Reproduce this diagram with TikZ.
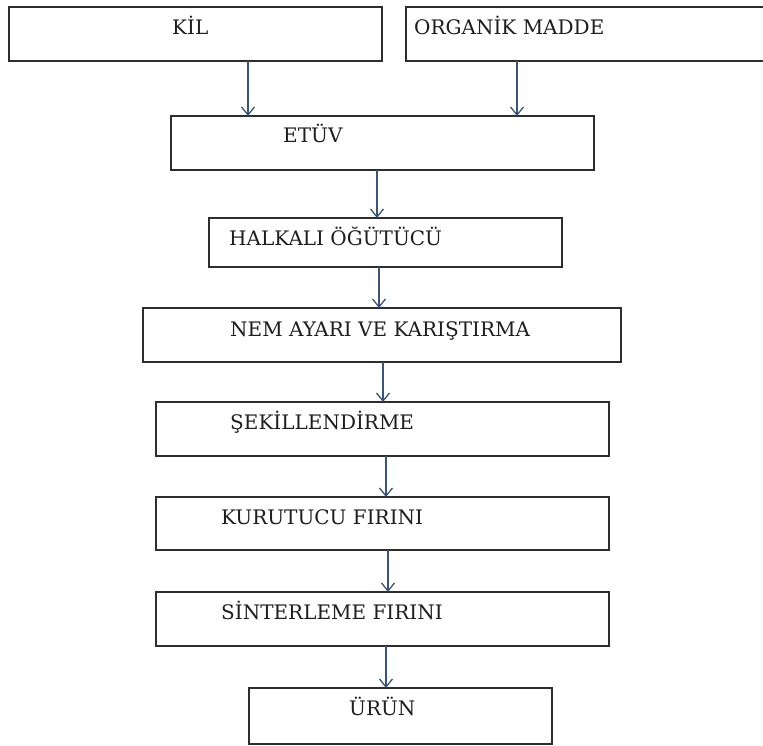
\documentclass[tikz,border=0pt]{standalone}
\usepackage{fontspec}
\setmainfont{DejaVu Serif}
\usetikzlibrary{arrows.meta}
\definecolor{boxline}{RGB}{45,45,45}
\definecolor{arrowcol}{RGB}{58,85,120}
\definecolor{txt}{RGB}{30,30,30}
\tikzset{
  stagebox/.style={draw=boxline, line width=1.6pt, fill=white, inner sep=0pt, outer sep=0pt, anchor=north west},
  lbl/.style={anchor=base west, inner sep=0pt, text=txt, font=\fontsize{20}{22}\selectfont},
  flow/.style={draw=arrowcol, line width=1.3pt, -{Straight Barb[length=8pt,width=13pt,line width=1.3pt]}}
}
\begin{document}
\begin{tikzpicture}[x=1pt,y=-1pt]
\useasboundingbox (0,0) rectangle (763,746);
\clip (0,0) rectangle (763,746);
% boxes
\node[stagebox, minimum width=373pt, minimum height=54pt] (kil) at (9,7) {};
\node[stagebox, minimum width=380pt, minimum height=54pt] (org) at (406,7) {};
\node[stagebox, minimum width=423pt, minimum height=54pt] (etuv) at (171,116) {};
\node[stagebox, minimum width=353pt, minimum height=49pt] (halk) at (209,218) {};
\node[stagebox, minimum width=478pt, minimum height=54pt] (nem) at (143,308) {};
\node[stagebox, minimum width=453pt, minimum height=54pt] (sekil) at (156,402) {};
\node[stagebox, minimum width=453pt, minimum height=53pt] (kuru) at (156,497) {};
\node[stagebox, minimum width=453pt, minimum height=54pt] (sinter) at (156,592) {};
\node[stagebox, minimum width=303pt, minimum height=56pt] (urun) at (249,688) {};
% labels
\node[lbl] (tkil) at (172,35) {KİL};
\node[lbl] (torg) at (414,35) {ORGANİK MADDE};
\node[lbl] (tetuv) at (283,143) {ETÜV};
\node[lbl] (thalk) at (229,245) {HALKALI ÖĞÜTÜCÜ};
\node[lbl] (tnem) at (230,336) {NEM AYARI VE KARIŞTIRMA};
\node[lbl] (tsekil) at (230,429) {ŞEKİLLENDİRME};
\node[lbl] (tkuru) at (221,524) {KURUTUCU FIRINI};
\node[lbl] (tsinter) at (221,619) {SİNTERLEME FIRINI};
\node[lbl] (turun) at (349,715) {ÜRÜN};
% arrow columns
\coordinate (c1) at (248,0);
\coordinate (c2) at (517,0);
\coordinate (c3) at (377,0);
\coordinate (c4) at (379,0);
\coordinate (c5) at (383,0);
\coordinate (c6) at (386,0);
\coordinate (c7) at (388,0);
\coordinate (c8) at (386,0);
% connectors
\draw[flow] (kil.south -| c1) -- (etuv.north -| c1);
\draw[flow] (org.south -| c2) -- (etuv.north -| c2);
\draw[flow] (etuv.south -| c3) -- (halk.north -| c3);
\draw[flow] (halk.south -| c4) -- (nem.north -| c4);
\draw[flow] (nem.south -| c5) -- (sekil.north -| c5);
\draw[flow] (sekil.south -| c6) -- (kuru.north -| c6);
\draw[flow] (kuru.south -| c7) -- (sinter.north -| c7);
\draw[flow] (sinter.south -| c8) -- (urun.north -| c8);
\end{tikzpicture}
\end{document}
